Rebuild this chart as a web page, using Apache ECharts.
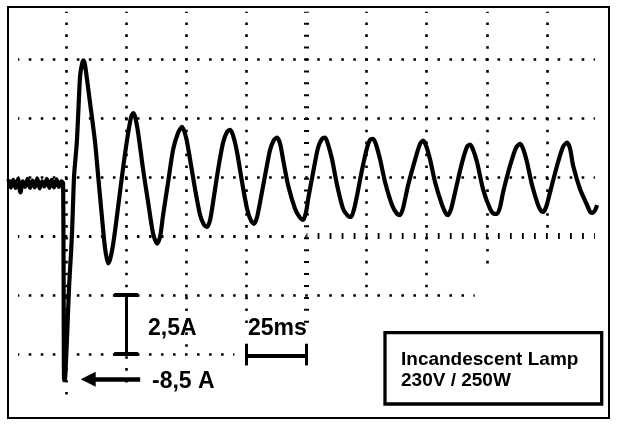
<!DOCTYPE html>
<html><head><meta charset="utf-8">
<script src="https://cdn.jsdelivr.net/npm/echarts@6/dist/echarts.min.js"></script>
<style>html,body{margin:0;padding:0;background:#fff}#c{width:618px;height:428px}</style>
</head><body><div id="c"></div>
<script>
// ---- data (time in ms, current in A) ----
const timeMs = [
  -24,-23,-22,-21,-20,-19,-18,-17,-16,-15,-14,-13,-12,-11,-10,-9,-8,-7,-6,-5,-4,-3,-2,-1.25,
  -0.83,-0.42,0.42,1.25,2.08,2.5,2.91,3.33,4.45,5.12,
  5.82,6.66,7.28,7.9,9.98,12.06,13.31,14.98,16.22,17.47,
  18.3,19.55,21.21,23.29,25.37,27.04,27.87,28.7,29.95,32.03,
  34.11,36.19,37.85,39.1,40.35,42.43,44.51,46.59,48.25,49.92,
  51.58,53.66,55.74,57.4,58.65,59.9,61.15,63.23,65.31,66.97,
  68.22,69.47,71.13,73.21,75.29,76.96,78.2,79.45,80.7,82.78,
  84.86,86.52,87.77,89.02,90.27,92.35,95.26,97.34,98.59,99.83,
  100.67,102.75,104.83,106.49,107.74,108.99,110.65,112.73,115.22,117.3,
  118.55,119.8,121.05,123.13,125.21,126.46,127.7,128.95,130.62,132.7,
  135.61,137.69,138.94,140.18,142.26,145.17,147.25,148.5,149.75,151.41,
  153.49,156.41,158.07,158.9,160.15,161.81,164.73,166.81,168.05,169.3,
  170.97,173.46,176.37,178.04,179.28,180.53,181.78,184.69,187.19,188.85,
  190.1,191.76,193.84,196.34,197.59,198.42,199.67,201.33,204.24,206.74,
  208.4,209.65,210.9,213.81,216.72,217.97,218.8,220.05,220.88
];
const currentA = [
  -0.1,-0.45,-0.12,-0.46,-0.08,-0.65,-0.18,-0.42,-0.08,-0.46,-0.15,-0.44,-0.06,-0.48,-0.18,-0.4,-0.08,-0.46,-0.12,-0.44,-0.1,-0.42,-0.18,-0.26,
  -8.61,-8.53,-6.72,-4.61,-3.16,-2.24,-1.06,0.07,1.46,2.84,
  4.27,4.81,4.94,4.73,3.13,1.46,0.07,-1.77,-3.03,-3.66,
  -3.49,-2.86,-1.61,0.07,1.58,2.55,2.71,2.55,1.88,0.32,
  -1.06,-2.40,-2.82,-2.53,-1.61,-0.22,1.16,1.88,2.13,1.67,
  0.74,-0.52,-1.61,-2.03,-2.11,-1.82,-1.06,0.32,1.46,1.92,
  2.00,1.75,1.04,-0.22,-1.35,-1.86,-1.98,-1.69,-1.06,0.07,
  1.16,1.58,1.67,1.41,0.74,-0.35,-1.35,-1.73,-1.82,-1.48,
  -0.94,0.20,1.25,1.62,1.67,1.37,0.74,-0.35,-1.35,-1.65,
  -1.69,-1.35,-0.77,0.32,1.25,1.58,1.62,1.37,0.74,-0.22,
  -1.19,-1.56,-1.61,-1.31,-0.35,0.74,1.41,1.54,1.33,0.74,
  -0.22,-1.19,-1.56,-1.61,-1.35,-0.64,0.62,1.29,1.37,1.16,
  0.62,-0.52,-1.35,-1.56,-1.56,-1.27,-0.64,0.49,1.25,1.41,
  1.20,0.62,-0.35,-1.19,-1.44,-1.48,-1.27,-0.64,0.49,1.29,
  1.46,1.20,0.49,-0.52,-1.19,-1.48,-1.52,-1.40,-1.19
];
// graticule divisions (2.5 A / div, 25 ms / div)
const gridCurrents = [5, 2.5, 0, -2.5, -5, -7.5];
const rowEndTimes  = [220, 220, 220, 220, 170, 70];
const gridTimes    = [0, 25, 50, 75, 100, 125, 150, 175, 200];
const colEndCurrents = [-9.5, -9, -7.5, -6.5, -6.5, -5, -5, -4, -2.5];
// annotation texts
const currentScaleLabel = '2,5A';
const timeScaleLabel = '25ms';
const peakLabel = '-8,5 A';
const legendLines = ['Incandescent Lamp', '230V / 250W'];
// scale bar values
const currentScale = [-5, -7.5];
const timeScale = [75, 100];
const peakCurrent = -8.57;

const chart = echarts.init(document.getElementById('c'));
const K = '#000';
const dotH = {color: K, width: 2.6, type: [2.6, 9.42], dashOffset: 1.3};
const dotV = {color: K, width: 2.6, type: [2.6, 9.32], dashOffset: 1.3};
const dashCenterV = {color: K, width: 5, type: [2, 9.92], dashOffset: 1};
const tickCenterH = {color: K, width: 6, type: [1.8, 10.22], dashOffset: 0.9};
const seg = (a, b, st) => [{coord: a, lineStyle: st}, {coord: b, lineStyle: st}];

const ml = [];
gridCurrents.forEach((a, i) => {
  if (a === -2.5) {
    ml.push(seg([-20, a], [100, a], {color: K, width: 3, type: [2.5, 9.52], dashOffset: 1.25}));
    ml.push(seg([100, a], [rowEndTimes[i], a], tickCenterH));
  } else {
    ml.push(seg([-20, a], [rowEndTimes[i], a], dotH));
  }
});
gridTimes.forEach((t, i) => {
  ml.push(seg([t, 7], [t, colEndCurrents[i]], t === 100 ? dashCenterV : dotV));
});
const solid = w => ({color: K, width: w, type: 'solid'});
// current scale bar (I shape)
ml.push(seg([25, currentScale[0]], [25, currentScale[1]], solid(3)));
ml.push(seg([20, currentScale[0]], [30, currentScale[0]], solid(4)));
ml.push(seg([20, currentScale[1]], [30, currentScale[1]], solid(4)));
// time scale bar
ml.push(seg([timeScale[0], -7.56], [timeScale[1], -7.56], solid(4)));
ml.push(seg([timeScale[0], -7.06], [timeScale[0], -7.98], solid(3)));
ml.push(seg([timeScale[1], -7.06], [timeScale[1], -7.98], solid(3)));
// arrow to the negative peak
const arrow = seg([30.8, peakCurrent], [9.2, peakCurrent], solid(4.5));
arrow[1].symbol = 'triangle';
arrow[1].symbolSize = 15;
arrow[0].symbol = 'none';
ml.push(arrow);

const font = (s) => 'bold ' + s + 'px "Liberation Sans", Arial, sans-serif';
const txt = (x, y, text, size) => ({
  type: 'text', x, y, z: 101,
  style: {text, font: font(size), fill: K, textAlign: 'left', textVerticalAlign: 'middle', align: 'left', verticalAlign: 'middle'}
});

chart.setOption({
  animation: false,
  backgroundColor: '#fff',
  grid: {left: 6, right: 11, top: -4.1, bottom: 14.9},
  xAxis: {type: 'value', min: -25, max: 225, show: false},
  yAxis: {type: 'value', min: -10, max: 7.5, show: false},
  series: [{
    type: 'line',
    data: timeMs.map((t, i) => [t, currentA[i]]),
    showSymbol: false,
    symbol: 'none',
    smooth: 0.25,
    lineStyle: {color: K, width: 4.2, join: 'round'},
    silent: true,
    z: 3,
    markLine: {
      silent: true,
      symbol: ['none', 'none'],
      label: {show: false},
      emphasis: {disabled: true},
      animation: false,
      data: ml
    }
  }],
  graphic: [
    {type: 'rect', z: 100, shape: {x: 8, y: 7, width: 601, height: 411}, style: {fill: 'none', stroke: K, lineWidth: 2}},
    {type: 'rect', z: 100, shape: {x: 385, y: 332.7, width: 216.7, height: 71.3}, style: {fill: '#fff', stroke: K, lineWidth: 3.3}},
    txt(148, 328.5, currentScaleLabel, 23),
    txt(248, 328.5, timeScaleLabel, 23),
    txt(152, 382, peakLabel, 23),
    txt(401, 360, legendLines[0], 19),
    txt(401, 381, legendLines[1], 19)
  ]
});
</script></body></html>
